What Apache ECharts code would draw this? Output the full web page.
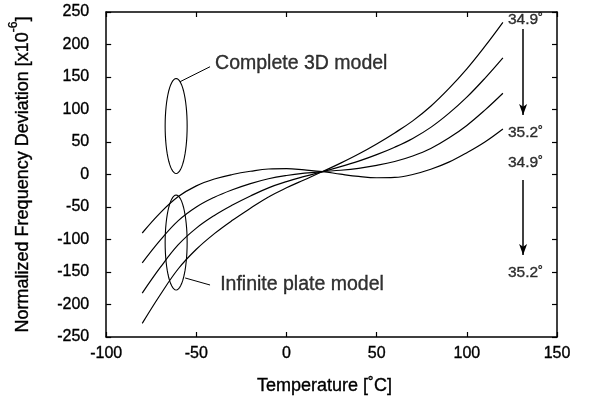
<!DOCTYPE html>
<html>
<head>
<meta charset="utf-8">
<script src="https://cdn.jsdelivr.net/npm/echarts@6/dist/echarts.min.js"></script>
<style>
  html, body { margin: 0; padding: 0; background: #fff; }
  #chart { width: 594px; height: 401px; }
</style>
</head>
<body>
<div id="chart"></div>
<script>
const temps = [-80, -70, -60, -50, -40, -30, -20, -10, 0, 10, 20, 30, 40, 50, 60, 70, 80, 90, 100, 110, 120]
const curveA = [-90, -59, -34, -17.5, -7, 0, 5, 8.5, 9, 7, 4.5, 0.5, -3, -5, -4.5, 0, 8, 19, 33.5, 50, 70]
const curveB = [-136, -101, -71, -50, -35, -23.5, -14, -6.5, -1.5, 2, 4.5, 6.5, 9.5, 14, 20, 28.5, 40, 56, 75.5, 99, 125]
const curveC = [-182.5, -143, -108, -82.5, -63, -47, -33, -20.5, -11, -3, 4.5, 12, 20.5, 30.5, 42, 55.5, 72.5, 94, 119, 148, 179.5]
const curveD = [-229, -185, -145, -115, -91, -70.5, -52, -34.5, -20.5, -8, 4.5, 17.5, 31.5, 47, 64, 82.5, 105, 132, 162.5, 197, 234]

const xTicks = { min: -100, max: 150, interval: 50 }
const yTicks = { min: -250, max: 250, interval: 50 }

// annotations, in data units
const ellipses = [[-61.2, 74.6, 6.1, 73], [-61.2, -104.6, 6.1, 73]]
const angleLabels = [[122.8, 237.7, '34.9˚'], [122.8, 63.8, '35.2˚'], [122.8, 17.7, '34.9˚'], [122.8, -151.5, '35.2˚']]
const modelLabels = [[-39.6, 170, 'Complete 3D model'], [-36.8, -170, 'Infinite plate model']]
const leaders = [[[-59, 142.8], [-42.4, 165.8]], [[-56.2, -159.2], [-42.4, -170]]]
const arrows = [[[131.2, 223.8], [131.2, 91.5]], [[131.2, -8.5], [131.2, -123.8]]]

const FONT = '"Liberation Sans", Arial, Helvetica, sans-serif'
const INK = '#000'
const thick = { textBorderColor: INK, textBorderWidth: 0.35 }

function frameAxis(extra) {
  return Object.assign({
    type: 'value',
    splitLine: { show: false },
    axisLine: { show: true, onZero: false, lineStyle: { color: INK, width: 1.5 } },
    axisTick: { show: true, inside: true, length: 5, lineStyle: { color: INK, width: 1.2 } },
    axisLabel: { show: false }
  }, extra)
}

const chart = echarts.init(document.getElementById('chart'), null, { renderer: 'canvas' })

const curveSeries = [curveA, curveB, curveC, curveD].map((vals, k) => ({
  name: 'curve' + k,
  type: 'line',
  data: temps.map((t, i) => [t, vals[i]]),
  smooth: 0.4,
  showSymbol: false,
  silent: true,
  lineStyle: { color: INK, width: 1.2 }
}))

const option = {
  animation: false,
  backgroundColor: '#fff',
  textStyle: { fontFamily: FONT },
  grid: { left: 106, right: 37, top: 12, bottom: 64 },
  xAxis: [
    frameAxis({
      position: 'bottom',
      min: xTicks.min, max: xTicks.max, interval: xTicks.interval,
      name: 'Temperature [˚C]',
      nameLocation: 'middle',
      nameGap: 40,
      nameTextStyle: Object.assign({ color: INK, fontSize: 18, fontFamily: FONT, padding: [0, 14, 0, 0] }, thick),
      axisLabel: Object.assign({ show: true, color: INK, fontSize: 16, margin: 9, fontFamily: FONT }, thick)
    }),
    frameAxis({ position: 'top', min: xTicks.min, max: xTicks.max, interval: xTicks.interval })
  ],
  yAxis: [
    frameAxis({
      position: 'left',
      min: yTicks.min, max: yTicks.max, interval: yTicks.interval,
      name: '{b|Normalized Frequency Deviation [x10}{sup|-6}{b|]}',
      nameLocation: 'middle',
      nameGap: 74,
      nameTextStyle: {
        color: INK, fontSize: 18, fontFamily: FONT,
        rich: {
          b: Object.assign({ fontSize: 18, lineHeight: 24, verticalAlign: 'bottom', color: INK, fontFamily: FONT }, thick),
          sup: Object.assign({ fontSize: 12, lineHeight: 10, verticalAlign: 'top', color: INK, fontFamily: FONT }, thick)
        }
      },
      axisLabel: Object.assign({ show: true, color: INK, fontSize: 16, margin: 17, fontFamily: FONT }, thick)
    }),
    frameAxis({ position: 'right', min: yTicks.min, max: yTicks.max, interval: yTicks.interval })
  ],
  series: curveSeries.concat([
    {
      type: 'custom',
      silent: true,
      data: ellipses,
      renderItem(params, api) {
        const c = api.coord([api.value(0), api.value(1)])
        const s = api.size([api.value(2), api.value(3)])
        const pts = []
        for (let i = 0; i < 60; i++) {
          const a = i / 60 * Math.PI * 2
          pts.push([c[0] + s[0] * Math.cos(a), c[1] + s[1] * Math.sin(a)])
        }
        return {
          type: 'polygon',
          shape: { points: pts },
          style: { fill: 'none', stroke: INK, lineWidth: 1.1 }
        }
      }
    },
    {
      type: 'scatter',
      silent: true,
      symbolSize: 0,
      data: angleLabels,
      label: Object.assign({
        show: true, position: 'right', distance: 0,
        formatter: p => p.value[2],
        color: INK, fontSize: 15.5, fontFamily: FONT
      }, thick)
    },
    {
      type: 'scatter',
      silent: true,
      symbolSize: 0,
      data: modelLabels,
      label: Object.assign({
        show: true, position: 'right', distance: 0,
        formatter: p => p.value[2],
        color: INK, fontSize: 19.5, fontFamily: FONT
      }, thick),
      markLine: {
        silent: true,
        symbol: ['none', 'none'],
        label: { show: false },
        lineStyle: { color: INK, width: 1, type: 'solid' },
        data: leaders.map(l => [{ coord: l[0] }, { coord: l[1] }])
      }
    },
    {
      type: 'line',
      data: [],
      markLine: {
        silent: true,
        symbol: ['none', 'arrow'],
        symbolSize: [6, 11],
        label: { show: false },
        lineStyle: { color: INK, width: 1.5, type: 'solid' },
        data: arrows.map(l => [{ coord: l[0] }, { coord: l[1] }])
      }
    }
  ])
}

chart.setOption(option)
</script>
</body>
</html>
